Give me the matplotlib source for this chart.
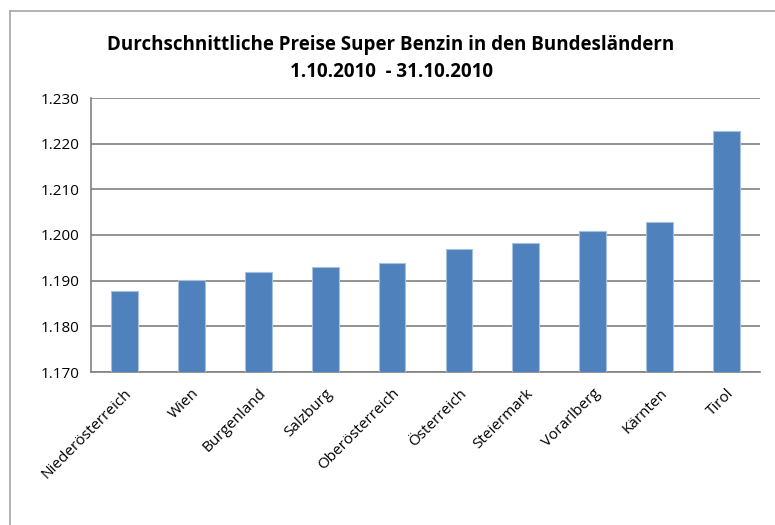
import matplotlib.pyplot as plt
from matplotlib.lines import Line2D

plt.rcParams['font.family'] = ['Open Sans', 'DejaVu Sans']

laender = ['Niederösterreich', 'Wien', 'Burgenland', 'Salzburg', 'Oberösterreich',
           'Österreich', 'Steiermark', 'Vorarlberg', 'Kärnten', 'Tirol']
preise = [1.1877, 1.1901, 1.1920, 1.1931, 1.1938, 1.1969, 1.1982, 1.2008, 1.2028, 1.2227]
yticks = [1.170, 1.180, 1.190, 1.200, 1.210, 1.220, 1.230]

W, H = 775, 525
fig = plt.figure(figsize=(W / 100, H / 100), dpi=100)
ax = fig.add_axes([91 / W, 1 - 372 / H, (760 - 91) / W, (372 - 98) / H])

x = range(len(laender))
ax.bar(x, preise, width=0.4, color='#4f81bd', edgecolor='#a7c0de', linewidth=0.8, zorder=3)

ax.set_ylim(1.170, 1.230)
ax.set_xlim(-0.5, len(laender) - 0.5)
ax.set_yticks(yticks)
ax.set_yticklabels([f'{v:.3f}' for v in yticks], fontsize=11)
ax.set_xticks(list(x))
ax.set_xticklabels(laender, rotation=45, ha='right', rotation_mode='anchor', fontsize=11)
ax.tick_params(axis='both', length=0, pad=8)
ax.tick_params(axis='x', pad=10)

ax.grid(axis='y', color='#808080', linewidth=1.2, zorder=0)
for side in ['top', 'right']:
    ax.spines[side].set_visible(False)
for side in ['left', 'bottom']:
    ax.spines[side].set_color('#808080')
    ax.spines[side].set_linewidth(1.2)

fig.text(391 / W, 1 - 45 / H, 'Durchschnittliche Preise Super Benzin in den Bundesländern',
         ha='center', va='center', fontsize=13.5, fontweight='bold')
fig.text(391 / W, 1 - 72 / H, '1.10.2010  - 31.10.2010',
         ha='center', va='center', fontsize=13.5, fontweight='bold')

# chart area border (only top and left visible in the crop)
fig.add_artist(Line2D([10 / W, 1], [1 - 11 / H, 1 - 11 / H], color='#a6a6a6', linewidth=1.2))
fig.add_artist(Line2D([10 / W, 10 / W], [0, 1 - 11 / H], color='#a6a6a6', linewidth=1.2))

fig.savefig('out.png', dpi=100)
